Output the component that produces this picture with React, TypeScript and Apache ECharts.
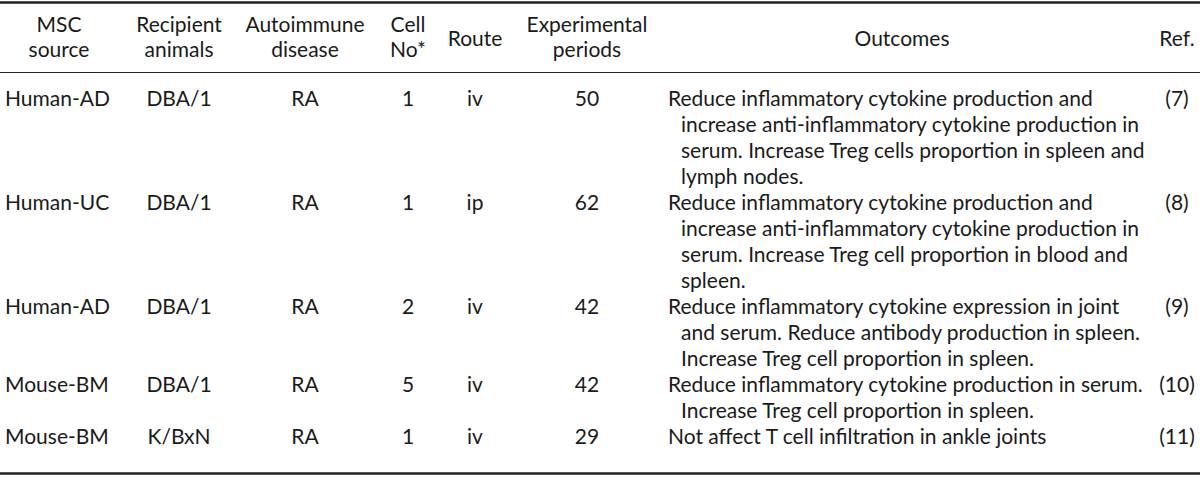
import React, { useEffect, useRef } from "react";
import * as echarts from "echarts";

// ---- Data ----
const headers: string[][] = [
  ["MSC", "source"],
  ["Recipient", "animals"],
  ["Autoimmune", "disease"],
  ["Cell", "No*"],
  ["Route"],
  ["Experimental", "periods"],
  ["Outcomes"],
  ["Ref."],
];
const mscSources = ["Human-AD", "Human-UC", "Human-AD", "Mouse-BM", "Mouse-BM"];
const recipients = ["DBA/1", "DBA/1", "DBA/1", "DBA/1", "K/BxN"];
const diseases = ["RA", "RA", "RA", "RA", "RA"];
const cellNos = ["1", "1", "2", "5", "1"];
const routes = ["iv", "ip", "iv", "iv", "iv"];
const periods = ["50", "62", "42", "42", "29"];
const outcomes: string[][] = [
  [
    "Reduce inflammatory cytokine production and",
    "increase anti-inflammatory cytokine production in",
    "serum. Increase Treg cells proportion in spleen and",
    "lymph nodes.",
  ],
  [
    "Reduce inflammatory cytokine production and",
    "increase anti-inflammatory cytokine production in",
    "serum. Increase Treg cell proportion in blood and",
    "spleen.",
  ],
  [
    "Reduce inflammatory cytokine expression in joint",
    "and serum. Reduce antibody production in spleen.",
    "Increase Treg cell proportion in spleen.",
  ],
  [
    "Reduce inflammatory cytokine production in serum.",
    "Increase Treg cell proportion in spleen.",
  ],
  ["Not affect T cell infiltration in ankle joints"],
];
const refs = ["(7)", "(8)", "(9)", "(10)", "(11)"];

// ---- Layout ----
const W = 1200;
const H = 478;
const FONT = "Lato, 'Noto Sans', sans-serif";
const FS = 21;
const COLOR = "#1a1a1a";
const colX = [5, 179, 305, 408, 475, 587, 902, 1177];
const colAlign = ["left", "center", "center", "center", "center", "center", "left", "center"];
const headerX = [59, 179, 305, 408, 475, 587, 902, 1177];
const OUT_X = 668;
const OUT_INDENT = 13;
const TOP_LINE = 2.5;
const HEAD_LINE = 72.5;
const BOT_LINE = 473.5;
const FIRST_Y = 97.5;
const PITCH = 26;
const ROW_GAP = 0;

function txt(text: string, x: number, y: number, align: string) {
  return {
    type: "text",
    x,
    y,
    silent: true,
    style: {
      text,
      fill: COLOR,
      font: `${FS}px ${FONT}`,
      textAlign: align,
      textVerticalAlign: "middle",
      verticalAlign: "middle",
    },
  };
}

function hline(y: number, w: number) {
  return {
    type: "line",
    silent: true,
    shape: { x1: 0, y1: y, x2: W, y2: y },
    style: { stroke: "#222", lineWidth: w },
  };
}

export default function App() {
  const ref = useRef<HTMLDivElement>(null);
  useEffect(() => {
    document.body.style.margin = "0";
    if (!ref.current) return;
    const chart = echarts.init(ref.current, null, { renderer: "svg" });
    const els: any[] = [];
    els.push(hline(TOP_LINE, 2.5));
    els.push(hline(HEAD_LINE, 1.2));
    els.push(hline(BOT_LINE, 2.5));

    headers.forEach((h, i) => {
      if (h.length === 2) {
        els.push(txt(h[0], headerX[i], 23.5, "center"));
        els.push(txt(h[1], headerX[i], 48.5, "center"));
      } else {
        els.push(txt(h[0], headerX[i], 37.5, "center"));
      }
    });

    let y = FIRST_Y;
    outcomes.forEach((lines, r) => {
      const cells = [mscSources[r], recipients[r], diseases[r], cellNos[r], routes[r], periods[r]];
      cells.forEach((c, i) => els.push(txt(c, colX[i], y, colAlign[i])));
      els.push(txt(refs[r], colX[7], y, colAlign[7]));
      lines.forEach((ln, k) => {
        els.push(txt(ln, k === 0 ? OUT_X : OUT_X + OUT_INDENT, y + k * PITCH, "left"));
      });
      y += lines.length * PITCH + ROW_GAP;
    });

    chart.setOption({
      animation: false,
      backgroundColor: "#ffffff",
      graphic: { elements: els },
    });
    return () => chart.dispose();
  }, []);
  return <div ref={ref} style={{ width: W, height: H }} />;
}
